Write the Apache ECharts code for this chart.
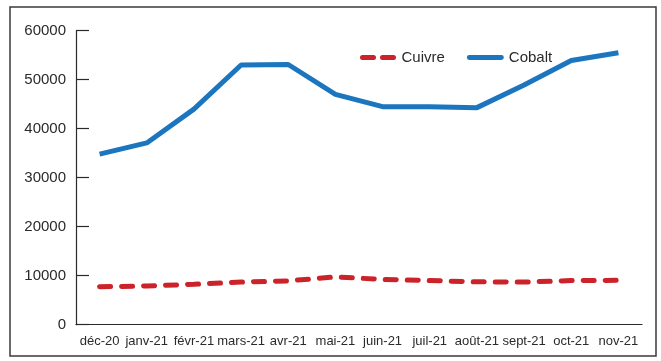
<!DOCTYPE html>
<html>
<head>
<meta charset="utf-8">
<script src="https://cdn.jsdelivr.net/npm/echarts@6/dist/echarts.min.js"></script>
<style>
  html, body { margin: 0; padding: 0; background: #ffffff; }
  #chart { width: 661px; height: 361px; }
</style>
</head>
<body>
<div id="chart"></div>
<script>
// Monthly prices, USD per tonne
const months = ['déc-20', 'janv-21', 'févr-21', 'mars-21', 'avr-21', 'mai-21',
                'juin-21', 'juil-21', 'août-21', 'sept-21', 'oct-21', 'nov-21'];
const cuivre = [7750, 7900, 8250, 8700, 8950, 9750, 9250, 9000, 8750, 8700, 9000, 9050];
const cobalt = [34800, 37100, 44000, 53000, 53100, 47000, 44500, 44500, 44300, 48900, 53900, 55500];
const yTicks = [0, 10000, 20000, 30000, 40000, 50000, 60000];

const FONT = '"Liberation Sans", Arial, sans-serif';
const INK = '#2a2a2a';
const RED = '#cc2229';
const BLUE = '#1c76bf';

// legend glyphs: two rounded dashes, and one solid rounded bar
const DASH_ICON = 'path://M2.5,0H13.5A2.5,2.5,0,0,1,13.5,5H2.5A2.5,2.5,0,0,1,2.5,0Z' +
                  'M22.5,0H33.5A2.5,2.5,0,0,1,33.5,5H22.5A2.5,2.5,0,0,1,22.5,0Z';
const BAR_ICON = 'path://M2.5,0H35.5A2.5,2.5,0,0,1,35.5,5H2.5A2.5,2.5,0,0,1,2.5,0Z';

const chart = echarts.init(document.getElementById('chart'), null, { renderer: 'canvas' });

chart.setOption({
  animation: false,
  backgroundColor: '#ffffff',
  grid: { left: 76, right: 19, top: 30.7, bottom: 36.3 },
  graphic: [{
    type: 'rect',
    shape: { x: 10, y: 7, width: 646, height: 349 },
    style: { fill: 'none', stroke: '#3a3a3a', lineWidth: 1.5 },
    silent: true
  }],
  legend: {
    left: 355, top: 45,
    itemWidth: 37, itemHeight: 5, itemGap: 22,
    textStyle: { fontFamily: FONT, fontSize: 15, color: INK },
    data: [
      { name: 'Cuivre', icon: DASH_ICON, itemStyle: { color: RED } },
      { name: 'Cobalt', icon: BAR_ICON, itemStyle: { color: BLUE } }
    ]
  },
  xAxis: {
    type: 'category',
    data: months,
    boundaryGap: true,
    axisLine: { lineStyle: { color: INK, width: 1.2 } },
    axisTick: { inside: true, length: 8, lineStyle: { color: INK, width: 1.2 } },
    axisLabel: { fontFamily: FONT, fontSize: 13, color: INK, margin: 10, interval: 0 },
    splitLine: { show: false }
  },
  yAxis: {
    type: 'value',
    min: yTicks[0],
    max: yTicks[yTicks.length - 1],
    interval: yTicks[1] - yTicks[0],
    axisLine: { show: true, lineStyle: { color: INK, width: 1.2 } },
    axisTick: { show: true, inside: true, length: 13, lineStyle: { color: INK, width: 1.2 } },
    axisLabel: {
      fontFamily: FONT, fontSize: 15, color: INK, margin: 10,
      formatter: (v) => String(v)
    },
    splitLine: { show: false }
  },
  series: [
    {
      name: 'Cuivre',
      type: 'line',
      data: cuivre,
      symbol: 'none',
      color: RED,
      lineStyle: { color: RED, width: 5, type: [11, 11], cap: 'round' }
    },
    {
      name: 'Cobalt',
      type: 'line',
      data: cobalt,
      symbol: 'none',
      color: BLUE,
      lineStyle: { color: BLUE, width: 5 }
    }
  ]
});
</script>
</body>
</html>
